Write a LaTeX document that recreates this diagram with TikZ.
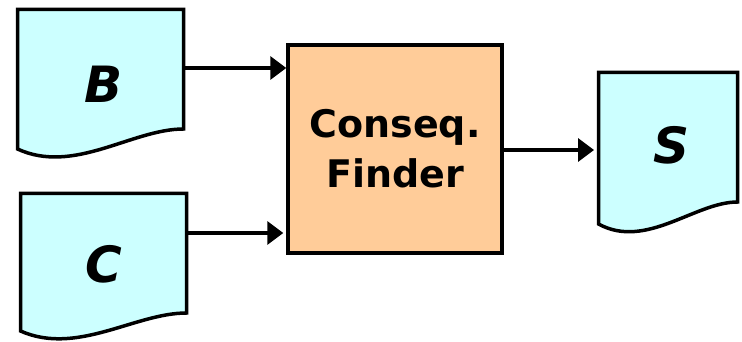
\documentclass[tikz,border=0pt]{standalone}
\usepackage{fontspec}
\setmainfont{DejaVu Sans}
\usetikzlibrary{arrows.meta}
\definecolor{docfill}{HTML}{CCFFFF}
\definecolor{procfill}{HTML}{FFCC99}
\tikzset{
  docpath/.style={draw=black, line width=3.5pt, fill=docfill, line join=miter},
  docletter/.style={font=\fontsize{50}{50}\selectfont\bfseries\itshape, inner sep=0pt},
  procbox/.style={draw=black, line width=3.5pt, fill=procfill,
    minimum width=214pt, minimum height=208pt, inner sep=0pt, align=center,
    font=\fontsize{38}{50}\selectfont\bfseries},
  arr/.style={line width=3.5pt, -{Triangle[length=16pt,width=23pt]}}
}
\begin{document}
\begin{tikzpicture}[x=1pt, y=-1pt]
  \useasboundingbox (0,0) rectangle (742,342);

  % document B
  \path[docpath] (17.5,9.5) -- (183.5,9.5) -- (183.5,129)
    .. controls (132,129) and (74,175) .. (17.5,149) -- cycle;
  \node[docletter] (B) at (104,84) {B};
  \coordinate (Bout) at (185,68);

  % document C
  \path[docpath] (20.5,193.5) -- (186.5,193.5) -- (186.5,313)
    .. controls (135,313) and (77,356) .. (20.5,331) -- cycle;
  \node[docletter] (C) at (104,264) {C};
  \coordinate (Cout) at (188,233);

  % document S
  \path[docpath] (598.5,72.5) -- (737.5,72.5) -- (737.5,202)
    .. controls (695,202) and (646,250) .. (598.5,224) -- cycle;
  \node[docletter] (S) at (671,145) {S};
  \coordinate (Sin) at (597,150);

  % processing box
  \node[procbox] (F) at (395,149) {Conseq.\\Finder};

  % data flow
  \draw[arr] (Bout) -- (Bout -| F.west);
  \draw[arr, shorten >=3pt] (Cout) -- (Cout -| F.west);
  \draw[arr, shorten >=3pt] (Sin -| F.east) -- (Sin);
\end{tikzpicture}
\end{document}
